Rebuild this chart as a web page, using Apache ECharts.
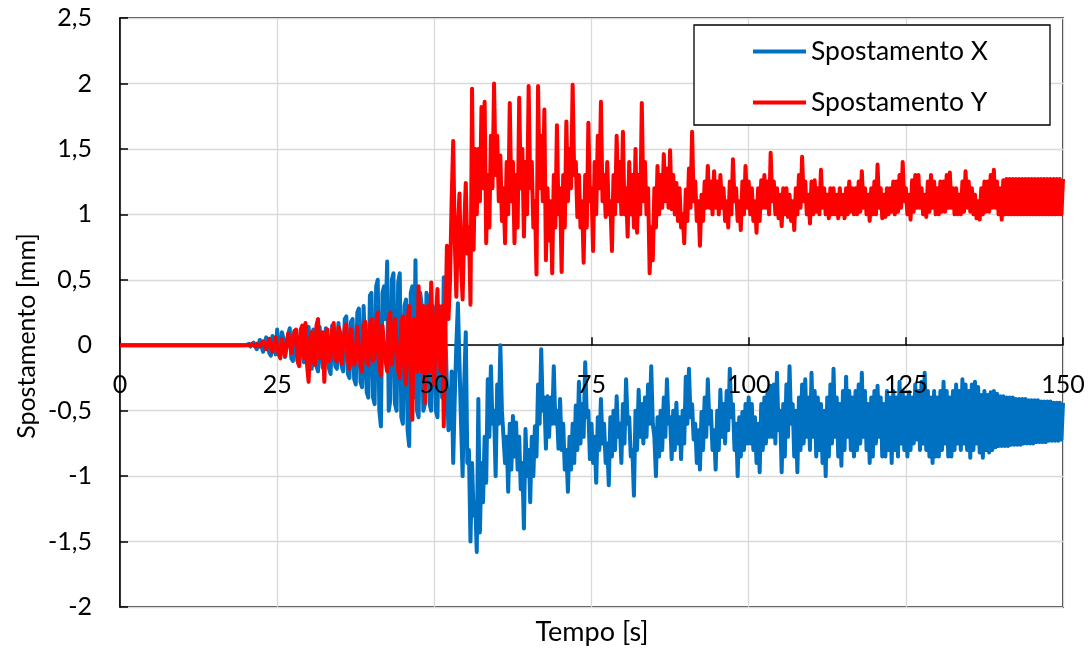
<!DOCTYPE html>
<html><head><meta charset="utf-8">
<script src="https://cdn.jsdelivr.net/npm/echarts@6/dist/echarts.min.js"></script>
<style>html,body{margin:0;padding:0;background:#fff}#c{width:1091px;height:650px}</style>
</head><body><div id="c"></div>
<script>
const seriesNames = ['Spostamento X', 'Spostamento Y'];
const xTitle = 'Tempo [s]';
const yTitle = 'Spostamento [mm]';
// samples from t = 20 s to 150 s every 0.25 s (signal is zero before 20 s)
const tStart = 20;
const tStep = 0.25;

const dispX = [
  0, 0, 0.01, -0.01, -0.02, 0.02, 0.03, -0.03, -0.03, 0.04, 0.05, -0.05, -0.06, 0.06, 0.07, -0.06, -0.08, 0.07, 0.06, -0.07,
  0.12, -0.06, -0.08, 0.1, 0.05, -0.09, -0.1, 0.08, 0.13, -0.1, -0.12, 0.11, 0.1, -0.12, -0.15, 0.1, 0.12, -0.13, -0.1, 0.12,
  0.14, -0.14, -0.18, 0.12, 0.1, -0.16, -0.2, 0.14, 0.15, -0.17, -0.15, 0.13, 0.12, -0.18, -0.22, 0.15, 0.16, -0.16, -0.18, 0.17,
  0.18, -0.16, -0.2, 0.2, 0.22, -0.22, -0.25, 0.18, 0.2, -0.26, -0.3, 0.25, 0.28, -0.28, -0.32, 0.3, 0.3, -0.36, -0.4, 0.38,
  0.4, -0.4, -0.45, 0.45, 0.5, -0.5, -0.62, 0.4, 0.45, 0.2, 0.64, -0.5, -0.42, 0.5, 0.55, -0.45, -0.5, 0.48, 0.55, -0.55,
  -0.6, 0.3, 0.35, -0.65, -0.77, 0.4, 0.45, -0.4, 0.65, -0.5, -0.55, 0.4, 0.3, -0.5, -0.45, 0.4, 0.35, -0.45, -0.5, 0.3,
  0.2, -0.5, -0.55, 0.3, 0.3, -0.4, 0.52, 0.1, -0.3, -0.65, -0.6, -0.2, -0.9, -0.4, 0.0, 0.32, 0.32, -0.6, -1.0, -0.3,
  0.1, -0.9, -0.8, -1.5, -0.9, -1.3, -1.2, -1.58, -0.41, -1.43, -0.9, -1.2, -0.7, -1.05, -0.26, -0.7, -0.16, -0.6, -0.5, -1.0,
  -0.3, -0.6, 0.0, -0.5, -0.5, -0.9, -0.7, -1.12, -0.6, -0.95, -0.54, -0.85, -0.59, -0.95, -0.7, -1.1, -0.9, -1.4, -0.64, -1.0,
  -0.8, -1.2, -0.7, -1.0, -0.62, -0.85, -0.3, -0.6, -0.03, -0.5, -0.4, -0.79, -0.39, -0.7, -0.4, -0.6, -0.16, -0.6, -0.5, -0.79,
  -0.41, -0.8, -0.6, -0.95, -0.8, -1.12, -0.7, -0.95, -0.6, -0.9, -0.46, -0.8, -0.28, -0.75, -0.45, -0.7, -0.13, -0.55, -0.5, -0.87,
  -0.6, -0.9, -0.7, -1.05, -0.55, -0.8, -0.41, -0.75, -0.6, -0.9, -0.75, -1.07, -0.55, -0.85, -0.5, -0.8, -0.39, -0.7, -0.6, -0.9,
  -0.45, -0.75, -0.26, -0.6, -0.55, -0.85, -0.8, -1.15, -0.5, -0.8, -0.34, -0.7, -0.45, -0.75, -0.4, -0.7, -0.3, -0.6, -0.16, -0.6,
  -0.7, -1.0, -0.55, -0.85, -0.5, -0.8, -0.4, -0.7, -0.26, -0.6, -0.55, -0.87, -0.5, -0.8, -0.44, -0.75, -0.55, -0.87, -0.5, -0.75,
  -0.24, -0.6, -0.18, -0.55, -0.45, -0.72, -0.6, -0.9, -0.65, -0.95, -0.51, -0.8, -0.4, -0.7, -0.26, -0.6, -0.5, -0.8, -0.65, -0.95,
  -0.5, -0.8, -0.34, -0.7, -0.45, -0.75, -0.35, -0.65, -0.18, -0.55, -0.45, -0.8, -0.6, -1.0, -0.55, -0.85, -0.51, -0.8, -0.45, -0.75,
  -0.4, -0.75, -0.45, -0.8, -0.55, -0.9, -0.6, -0.97, -0.45, -0.8, -0.4, -0.75, -0.35, -0.7, -0.31, -0.7, -0.3, -0.75, -0.21, -0.65,
  -0.5, -0.97, -0.45, -0.85, -0.3, -0.7, -0.16, -0.6, -0.45, -0.85, -0.5, -0.97, -0.4, -0.8, -0.3, -0.75, -0.26, -0.7, -0.4, -0.8,
  -0.21, -0.7, -0.35, -0.85, -0.4, -0.8, -0.45, -0.9, -0.5, -1.0, -0.4, -0.85, -0.3, -0.75, -0.18, -0.7, -0.4, -0.85, -0.45, -0.92,
  -0.35, -0.8, -0.24, -0.7, -0.35, -0.8, -0.4, -0.85, -0.35, -0.8, -0.3, -0.75, -0.21, -0.7, -0.35, -0.8, -0.45, -0.9, -0.4, -0.85,
  -0.35, -0.75, -0.31, -0.7, -0.4, -0.85, -0.45, -0.85, -0.35, -0.8, -0.4, -0.9, -0.35, -0.8, -0.4, -0.85, -0.28, -0.75, -0.35, -0.8,
  -0.4, -0.85, -0.36, -0.8, -0.4, -0.75, -0.3, -0.72, -0.35, -0.8, -0.28, -0.75, -0.21, -0.8, -0.35, -0.85, -0.4, -0.9, -0.35, -0.85,
  -0.4, -0.85, -0.35, -0.8, -0.28, -0.75, -0.35, -0.85, -0.4, -0.85, -0.35, -0.8, -0.3, -0.75, -0.35, -0.8, -0.26, -0.75, -0.3, -0.8,
  -0.35, -0.86, -0.3, -0.8, -0.28, -0.75, -0.32, -0.82, -0.38, -0.86, -0.35, -0.8, -0.38, -0.82, -0.36, -0.8, -0.35, -0.78, -0.37, -0.77,
  -0.39, -0.77, -0.39, -0.77, -0.4, -0.77, -0.4, -0.76, -0.4, -0.76, -0.41, -0.76, -0.41, -0.76, -0.41, -0.75, -0.41, -0.75, -0.42, -0.75,
  -0.42, -0.75, -0.42, -0.74, -0.42, -0.74, -0.43, -0.74, -0.43, -0.74, -0.43, -0.73, -0.43, -0.73, -0.44, -0.73, -0.44, -0.73, -0.44, -0.72,
  -0.44
];

const dispY = [
  0, 0, 0, 0, 0.01, 0, -0.01, 0.01, 0.02, -0.01, -0.02, 0.03, 0.04, -0.03, -0.04, 0.05, 0.05, -0.05, -0.06, 0.06,
  0.07, -0.07, -0.1, 0.05, 0.06, -0.08, -0.08, 0.09, 0.1, -0.06, -0.05, 0.1, 0.12, -0.12, -0.16, 0.12, 0.15, -0.1, 0.17, -0.15,
  -0.28, 0.05, 0.1, -0.12, -0.15, 0.15, 0.2, -0.1, -0.05, 0.1, -0.28, 0.08, 0.12, -0.12, -0.1, 0.12, 0.17, -0.1, -0.12, 0.14,
  0.1, -0.14, -0.15, 0.13, 0.16, -0.12, -0.18, 0.12, 0.12, -0.15, -0.1, 0.14, 0.15, -0.16, -0.2, 0.15, 0.18, -0.12, -0.15, 0.16,
  0.2, -0.12, -0.1, 0.18, 0.25, -0.15, -0.23, 0.15, 0.15, -0.12, -0.2, 0.2, 0.25, -0.15, -0.15, 0.2, 0.2, -0.2, -0.25, 0.18,
  0.22, -0.2, -0.3, 0.2, 0.3, -0.2, -0.57, 0.2, 0.1, -0.2, 0.45, -0.1, -0.2, 0.3, -0.44, -0.1, 0.3, -0.2, 0.48, 0.0,
  -0.3, 0.2, 0.43, -0.1, -0.2, 0.3, -0.62, 0.1, 0.76, 0.2, 0.5, 1.1, 1.56, 0.8, 0.37, 0.9, 1.16, 0.6, 0.35, 0.9,
  1.24, 0.7, 0.9, 0.31, 1.96, 0.73, 1.5, 1.0, 1.5, 1.1, 1.82, 1.2, 1.86, 0.78, 1.3, 0.9, 1.6, 1.2, 2.0, 1.3,
  1.6, 1.1, 1.45, 0.95, 1.2, 0.78, 1.4, 1.0, 1.85, 1.1, 1.4, 0.78, 1.3, 0.9, 1.89, 1.2, 1.5, 0.83, 1.4, 1.0,
  1.98, 1.2, 1.4, 0.9, 1.1, 0.54, 1.98, 1.2, 1.6, 1.1, 1.8, 0.65, 1.2, 0.8, 1.1, 0.55, 1.3, 0.9, 1.68, 1.0,
  1.2, 0.56, 1.3, 0.9, 1.71, 1.1, 1.5, 1.2, 1.99, 1.3, 1.4, 0.98, 1.3, 0.9, 1.1, 0.63, 1.3, 0.9, 1.7, 1.1,
  1.2, 0.72, 1.4, 1.0, 1.6, 1.2, 1.86, 1.1, 1.3, 0.98, 1.4, 1.0, 1.1, 0.72, 1.3, 1.0, 1.6, 1.1, 1.4, 1.0,
  1.63, 1.0, 1.2, 0.83, 1.4, 1.0, 1.3, 0.9, 1.5, 0.86, 1.3, 1.0, 1.85, 1.1, 1.4, 1.0, 1.2, 0.55, 0.9, 0.65,
  1.2, 0.9, 1.37, 1.0, 1.3, 1.05, 1.46, 1.1, 1.35, 1.05, 1.49, 1.04, 1.3, 1.0, 1.24, 0.95, 1.2, 0.9, 1.0, 0.78,
  1.19, 0.95, 1.35, 1.05, 1.63, 1.1, 1.25, 0.95, 1.1, 0.76, 1.15, 0.95, 1.25, 1.05, 1.37, 1.05, 1.25, 1.0, 1.33, 1.05,
  1.25, 1.0, 1.3, 1.05, 1.2, 0.95, 1.1, 0.9, 1.25, 1.0, 1.42, 1.1, 1.2, 0.95, 1.1, 0.88, 1.25, 1.0, 1.37, 1.05,
  1.25, 1.0, 1.2, 0.95, 1.1, 0.86, 1.2, 0.95, 1.26, 1.05, 1.3, 1.05, 1.25, 1.0, 1.47, 1.1, 1.25, 1.0, 1.2, 0.97,
  1.15, 0.91, 1.2, 1.0, 1.2, 0.98, 1.15, 0.95, 1.1, 0.88, 1.2, 1.0, 1.3, 1.05, 1.44, 1.1, 1.25, 1.0, 1.15, 0.93,
  1.25, 1.0, 1.26, 1.02, 1.2, 1.0, 1.34, 1.05, 1.2, 1.0, 1.15, 0.97, 1.2, 1.0, 1.2, 1.0, 1.15, 0.97, 1.2, 1.0,
  1.15, 0.97, 1.2, 1.0, 1.25, 1.02, 1.2, 1.0, 1.2, 1.0, 1.25, 1.02, 1.33, 1.05, 1.2, 1.0, 1.15, 0.95, 1.2, 1.0,
  1.25, 1.0, 1.38, 1.05, 1.2, 0.97, 1.15, 0.98, 1.2, 1.0, 1.2, 1.02, 1.25, 1.0, 1.25, 1.02, 1.3, 1.05, 1.4, 1.1,
  1.2, 1.0, 1.15, 0.96, 1.26, 1.02, 1.3, 1.05, 1.3, 1.05, 1.2, 1.0, 1.15, 0.98, 1.25, 1.02, 1.3, 1.05, 1.25, 1.0,
  1.2, 1.0, 1.25, 1.02, 1.25, 1.02, 1.3, 1.05, 1.32, 1.05, 1.2, 1.0, 1.2, 1.0, 1.15, 1.0, 1.25, 1.02, 1.33, 1.05,
  1.25, 1.02, 1.2, 1.0, 1.15, 0.97, 1.1, 0.96, 1.2, 1.0, 1.25, 1.02, 1.25, 1.02, 1.3, 1.05, 1.34, 1.05, 1.25, 1.0,
  1.2, 0.96, 1.26, 1.0, 1.27, 1.0, 1.27, 1.0, 1.27, 1.0, 1.27, 1.0, 1.27, 1.0, 1.27, 1.0, 1.27, 1.0, 1.27, 1.0,
  1.27, 1.0, 1.27, 1.0, 1.27, 1.0, 1.27, 1.0, 1.27, 1.0, 1.27, 1.0, 1.27, 1.0, 1.27, 1.0, 1.27, 1.0, 1.27, 1.0,
  1.27
];

function toPairs(vals) {
  const out = [[0, 0]];
  vals.forEach((v, i) => out.push([tStart + i * tStep, v]));
  return out;
}

const FONT = 'Lato';
const GRID_TOP = 18, GRID_BOTTOM = 43, H = 650;
const Y_MIN = -2, Y_MAX = 2.5;
// distance (px) from the bottom of the grid up to the y = 0 line, used to lift the label-only x axis
const zeroLift = (H - GRID_TOP - GRID_BOTTOM) * (0 - Y_MIN) / (Y_MAX - Y_MIN);
const chart = echarts.init(document.getElementById('c'), null, { renderer: 'canvas' });
const commaFmt = v => String(v).replace('.', ',');

chart.setOption({
  animation: false,
  backgroundColor: '#fff',
  grid: { left: 120, right: 28, top: GRID_TOP, bottom: GRID_BOTTOM, show: true, borderColor: '#000', borderWidth: 1.5, backgroundColor: 'transparent' },
  xAxis: [
    {
      type: 'value', min: 0, max: 150, interval: 25, position: 'bottom',
      axisLine: { onZero: true, lineStyle: { color: '#000', width: 1.5 } },
      axisTick: { show: true, inside: true, length: 8, lineStyle: { color: '#000', width: 1.5 } },
      axisLabel: { show: false },
      splitLine: { show: true, lineStyle: { color: '#d9d9d9', width: 1.3 } }
    },
    {
      type: 'value', min: 0, max: 150, interval: 25, position: 'bottom', z: 6, offset: -zeroLift,
      axisLine: { show: false, onZero: false },
      axisTick: { show: false },
      axisLabel: { show: true, fontFamily: FONT, fontSize: 25, color: '#000', margin: 27, formatter: commaFmt },
      splitLine: { show: false }
    }
  ],
  yAxis: {
    type: 'value', min: Y_MIN, max: Y_MAX, interval: 0.5,
    axisLine: { show: true, lineStyle: { color: '#000', width: 1.5 } },
    axisTick: { show: true, inside: true, length: 8, lineStyle: { color: '#000', width: 1.5 } },
    axisLabel: { fontFamily: FONT, fontSize: 25, color: '#000', margin: 28, formatter: commaFmt },
    splitLine: { show: true, lineStyle: { color: '#d9d9d9', width: 1.3 } }
  },
  legend: {
    orient: 'vertical', left: 748, top: 33, itemGap: 24,
    icon: 'rect', itemWidth: 53, itemHeight: 4,
    textStyle: { fontFamily: FONT, fontSize: 26.5, color: '#000' },
    data: seriesNames
  },
  graphic: [
    { type: 'rect', z: 3, shape: { x: 694, y: 25, width: 356, height: 100 }, style: { fill: '#fff', stroke: '#000', lineWidth: 1.3 } },
    { type: 'text', z: 5, x: 592, y: 632, style: { text: xTitle, align: 'center', verticalAlign: 'middle', font: '27px ' + FONT, fill: '#000' } },
    { type: 'text', z: 5, x: 27, y: 336, rotation: Math.PI / 2, style: { text: yTitle, align: 'center', verticalAlign: 'middle', font: '25px ' + FONT, fill: '#000' } }
  ],
  series: [
    { name: seriesNames[0], type: 'line', xAxisIndex: 0, showSymbol: false, symbol: 'none', sampling: null,
      lineStyle: { color: '#0070C0', width: 4, join: 'round' }, itemStyle: { color: '#0070C0' }, data: toPairs(dispX), z: 2 },
    { name: seriesNames[1], type: 'line', xAxisIndex: 0, showSymbol: false, symbol: 'none', sampling: null,
      lineStyle: { color: '#FF0000', width: 4, join: 'round' }, itemStyle: { color: '#FF0000' }, data: toPairs(dispY), z: 2 }
  ]
});
</script></body></html>
